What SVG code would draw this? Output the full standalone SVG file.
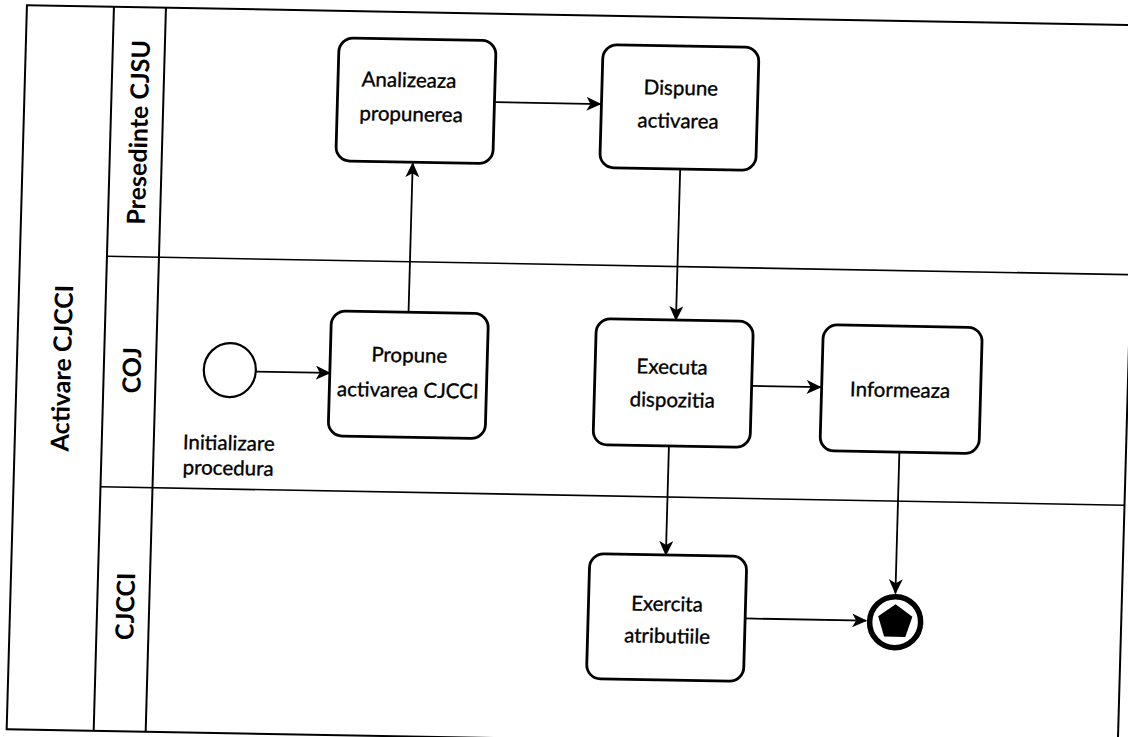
<svg xmlns="http://www.w3.org/2000/svg" width="1128" height="737" viewBox="0 0 1128 737">
<style>
.line{fill:none;stroke:#000;stroke-width:2}
.thin{fill:none;stroke:#000;stroke-width:1.6}
.task{fill:#fff;stroke:#000;stroke-width:2.8}
.t{font-family:Lato,"Open Sans",sans-serif;font-size:20.5px;fill:#000;stroke:#000;stroke-width:0.35;text-anchor:middle}
.lab{font-family:Lato,"Open Sans",sans-serif;font-size:25px;font-weight:bold;fill:#000;text-anchor:middle;dominant-baseline:central}
.conn{fill:none;stroke:#000;stroke-width:1.8;marker-end:url(#arr)}
</style>
<defs>
<marker id="arr" markerUnits="userSpaceOnUse" markerWidth="16" markerHeight="14" refX="14" refY="7" orient="auto">
<path d="M0,0 L15,7 L0,14 L4,7 z" fill="#000"/>
</marker>
</defs>
<rect width="1128" height="737" fill="#fff"/>
<g transform="translate(560 370) matrix(1 0.018 -0.028 1 0 0) translate(-560 -370)">
<g id="pool">
<rect class="line" x="17" y="15" width="1111" height="724"/>
<line class="line" x1="104" y1="15" x2="104" y2="739"/>
<line class="line" x1="156" y1="15" x2="156" y2="739"/>
<text class="lab" transform="translate(61 377) rotate(-90)">Activare CJCCI</text>
</g>
<g id="lane-presedinte">
<text class="lab" transform="translate(131 140) rotate(-90)">Presedinte CJSU</text>
</g>
<g id="lane-coj">
<line class="thin" x1="104" y1="264.5" x2="1128" y2="264.5"/>
<text class="lab" transform="translate(131 378) rotate(-90)">COJ</text>
</g>
<g id="lane-cjcci">
<line class="thin" x1="104" y1="495" x2="1128" y2="495"/>
<text class="lab" transform="translate(131 614) rotate(-90)">CJCCI</text>
</g>
<g id="connectors">
<line class="conn" x1="256" y1="377" x2="330" y2="377"/>
<line class="conn" x1="407" y1="315" x2="407" y2="166"/>
<line class="conn" x1="488" y1="103.5" x2="593" y2="103.5"/>
<line class="conn" x1="674.5" y1="166" x2="674.5" y2="318"/>
<line class="conn" x1="752" y1="382.5" x2="821" y2="382.5"/>
<line class="conn" x1="671" y1="443" x2="671" y2="553"/>
<line class="conn" x1="901.5" y1="445" x2="901.5" y2="587"/>
<line class="conn" x1="752" y1="615" x2="873" y2="615"/>
</g>
<g id="start">
<ellipse cx="230" cy="376" rx="26" ry="27" fill="#fff" stroke="#000" stroke-width="2.2"/>
<text class="t" x="231" y="456">Initializare</text>
<text class="t" x="231" y="481">procedura</text>
</g>
<g id="task-analizeaza">
<rect class="task" x="330" y="42" width="157" height="123" rx="14"/>
<text class="t" x="401" y="90">Analizeaza</text>
<text class="t" x="404" y="124">propunerea</text>
</g>
<g id="task-dispune">
<rect class="task" x="594" y="44" width="156" height="123" rx="14"/>
<text class="t" x="673" y="93">Dispune</text>
<text class="t" x="671" y="126">activarea</text>
</g>
<g id="task-propune">
<rect class="task" x="330" y="315" width="157" height="125" rx="14"/>
<text class="t" x="409" y="365">Propune</text>
<text class="t" x="408.5" y="400">activarea CJCCI</text>
</g>
<g id="task-executa">
<rect class="task" x="595" y="318" width="157" height="126" rx="14"/>
<text class="t" x="672" y="372">Executa</text>
<text class="t" x="673" y="405">dispozitia</text>
</g>
<g id="task-informeaza">
<rect class="task" x="822" y="320" width="159" height="126" rx="14"/>
<text class="t" x="900.5" y="391">Informeaza</text>
</g>
<g id="task-exercita">
<rect class="task" x="595" y="553" width="157" height="125" rx="14"/>
<text class="t" x="673.5" y="609">Exercita</text>
<text class="t" x="674.5" y="641">atributiile</text>
</g>
<g id="end">
<circle cx="902" cy="616" r="25.5" fill="#fff" stroke="#000" stroke-width="5.5"/>
<polygon points="902,598 919.1,610.4 912.6,630.6 891.4,630.6 884.9,610.4" fill="#000"/>
</g>
</g>
</svg>
